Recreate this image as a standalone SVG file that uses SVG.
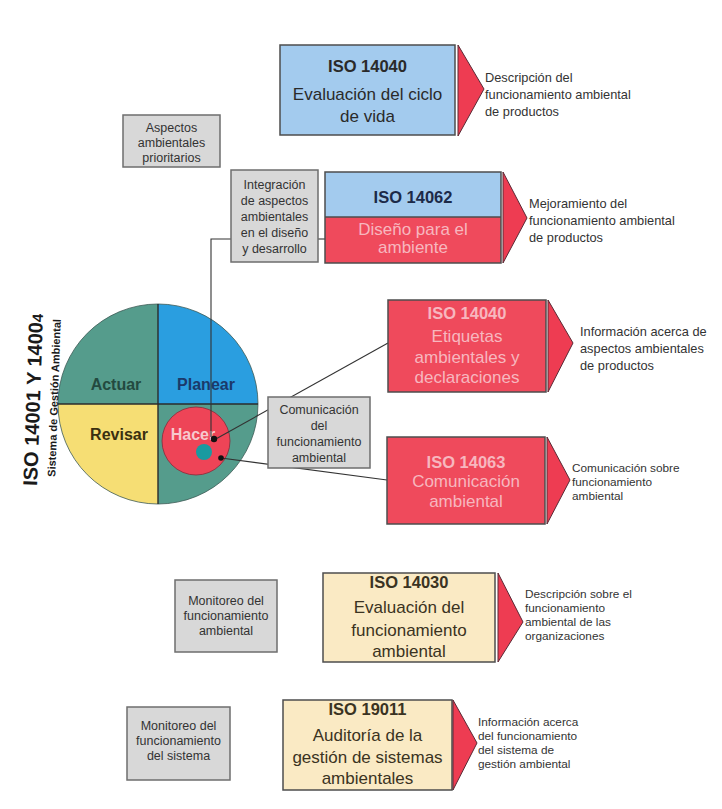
<svg xmlns="http://www.w3.org/2000/svg" width="722" height="809" viewBox="0 0 722 809">
  <style>
    .box { stroke: #4d4d4d; stroke-width: 1.5; }
    .gray { fill: #d8d8d8; stroke: #6e6e6e; stroke-width: 1.5; }
    .blue { fill: #a3cbee; }
    .red { fill: #ef4a5c; }
    .cream { fill: #faeac4; }
    .tri { fill: #ee3c52; stroke: #5a2a35; stroke-width: 1; }
    .link { fill: none; stroke: #333333; stroke-width: 1.1; }
    text { font-family: "Liberation Sans", Arial, sans-serif; }
    .t { font-size: 17px; text-anchor: middle; }
    .iso { font-size: 16.5px; font-weight: bold; text-anchor: middle; }
    .dark { fill: #2a2a2a; }
    .pink { fill: #f7b7bf; }
    .navy { fill: #1c2a48; }
    .brown { fill: #3a3322; }
    .g { font-size: 12.5px; fill: #333333; text-anchor: middle; }
    .side { font-size: 12.8px; fill: #333333; }
    .side2 { font-size: 11.8px; fill: #333333; }
    .q { font-size: 16px; font-weight: bold; text-anchor: middle; }
  </style>
  <defs>
    <clipPath id="disc"><circle cx="158" cy="404" r="100"/></clipPath>
  </defs>
  <rect width="722" height="809" fill="#ffffff"/>

  <!-- PDCA cycle -->
  <g id="ciclo">
    <g clip-path="url(#disc)">
      <rect x="58" y="304" width="100" height="100" fill="#559c8c"/>
      <rect x="158" y="304" width="100" height="100" fill="#2a9ee0"/>
      <rect x="58" y="404" width="100" height="100" fill="#f6de74"/>
      <rect x="158" y="404" width="100" height="100" fill="#559c8c"/>
    </g>
    <circle cx="158" cy="404" r="100" fill="none" stroke="#3d5a55" stroke-width="0.8"/>
    <line x1="58" y1="404" x2="258" y2="404" stroke="#2b2b2b" stroke-width="1.4"/>
    <line x1="158" y1="304" x2="158" y2="504" stroke="#2b2b2b" stroke-width="1.4"/>
    <circle cx="196" cy="441" r="34" fill="#ee4457" stroke="#8a2a3a" stroke-width="0.8"/>
    <text class="q" x="116" y="390" fill="#234a40">Actuar</text>
    <text class="q" x="206" y="390" fill="#1b3a6a">Planear</text>
    <text class="q" x="119" y="440" fill="#3a3010">Revisar</text>
    <text class="q" x="193" y="440" fill="#f7c9ce">Hacer</text>
    <circle cx="204" cy="452" r="8" fill="#1a9aa0"/>
  </g>

  <!-- title beside the cycle -->
  <g id="titulo">
    <text transform="translate(40,400) rotate(-88)" font-size="20" font-weight="bold" fill="#1a1a1a" text-anchor="middle">ISO 14001 Y 1400<tspan font-size="15">4</tspan></text>
    <text transform="translate(58,398) rotate(-88)" font-size="11" font-weight="bold" fill="#1a1a1a" text-anchor="middle">Sistema de Gestión Ambiental</text>
  </g>

  <!-- connectors -->
  <g id="conectores">
    <polyline class="link" points="231,239 211,239 211,437"/>
    <line class="link" x1="318" y1="239" x2="325" y2="239"/>
    <line class="link" x1="214" y1="440" x2="388" y2="343"/>
    <line class="link" x1="221" y1="458" x2="387" y2="480"/>
    <circle cx="214" cy="439" r="3.2" fill="#111111"/>
    <circle cx="221" cy="458" r="2.8" fill="#111111"/>
  </g>

  <!-- ISO 14040: life cycle -->
  <g id="iso14040-ciclo">
    <rect class="box blue" x="280" y="45" width="175" height="90"/>
    <text class="iso dark" x="367.5" y="72">ISO 14040</text>
    <text class="t dark" x="367.5" y="100">Evaluación del ciclo</text>
    <text class="t dark" x="367.5" y="122">de vida</text>
    <polygon class="tri" points="458,45 484,89 458,136"/>
    <text class="side" x="485" y="82">Descripción del</text>
    <text class="side" x="485" y="99">funcionamiento ambiental</text>
    <text class="side" x="485" y="116">de productos</text>
  </g>

  <g id="aspectos">
    <rect class="gray" x="123" y="115" width="97" height="52"/>
    <text class="g" x="171.5" y="132">Aspectos</text>
    <text class="g" x="171.5" y="147">ambientales</text>
    <text class="g" x="171.5" y="162">prioritarios</text>
  </g>

  <g id="integracion">
    <rect class="gray" x="231" y="170" width="87" height="92"/>
    <text class="g" x="274.5" y="189">Integración</text>
    <text class="g" x="274.5" y="205">de aspectos</text>
    <text class="g" x="274.5" y="221">ambientales</text>
    <text class="g" x="274.5" y="237">en el diseño</text>
    <text class="g" x="274.5" y="253">y desarrollo</text>
  </g>

  <!-- ISO 14062 -->
  <g id="iso14062">
    <rect class="blue" x="325" y="172" width="176" height="45"/>
    <rect class="red" x="325" y="217" width="176" height="46"/>
    <rect class="box" x="325" y="172" width="176" height="91" fill="none"/>
    <line x1="325" y1="217" x2="501" y2="217" stroke="#4d4d4d" stroke-width="1.5"/>
    <text class="iso navy" x="413" y="203">ISO 14062</text>
    <text class="t pink" x="413" y="235">Diseño para el</text>
    <text class="t pink" x="413" y="253">ambiente</text>
    <polygon class="tri" points="503,172 527,218 503,263"/>
    <text class="side" x="529" y="208">Mejoramiento del</text>
    <text class="side" x="529" y="225">funcionamiento ambiental</text>
    <text class="side" x="529" y="242">de productos</text>
  </g>

  <!-- labels and declarations -->
  <g id="iso14040-etiquetas">
    <rect class="box red" x="388" y="300" width="158" height="92"/>
    <text class="iso pink" x="467" y="319">ISO 14040</text>
    <text class="t pink" x="467" y="342">Etiquetas</text>
    <text class="t pink" x="467" y="363">ambientales y</text>
    <text class="t pink" x="467" y="383">declaraciones</text>
    <polygon class="tri" points="548,300 573,343 548,392"/>
    <text class="side" x="580" y="336">Información acerca de</text>
    <text class="side" x="580" y="353">aspectos ambientales</text>
    <text class="side" x="580" y="370">de productos</text>
  </g>

  <g id="comunicacion">
    <rect class="gray" x="268" y="397" width="102" height="71"/>
    <text class="g" x="319" y="414">Comunicación</text>
    <text class="g" x="319" y="430">del</text>
    <text class="g" x="319" y="446">funcionamiento</text>
    <text class="g" x="319" y="462">ambiental</text>
  </g>

  <!-- ISO 14063 -->
  <g id="iso14063">
    <rect class="box red" x="387" y="437" width="158" height="87"/>
    <text class="iso pink" x="466" y="468">ISO 14063</text>
    <text class="t pink" x="466" y="487">Comunicación</text>
    <text class="t pink" x="466" y="507">ambiental</text>
    <polygon class="tri" points="547,437 570,480 547,524"/>
    <text class="side2" x="572" y="472">Comunicación sobre</text>
    <text class="side2" x="572" y="486">funcionamiento</text>
    <text class="side2" x="572" y="500">ambiental</text>
  </g>

  <g id="monitoreo-ambiental">
    <rect class="gray" x="175" y="580" width="102" height="72"/>
    <text class="g" x="226" y="605">Monitoreo del</text>
    <text class="g" x="226" y="620">funcionamiento</text>
    <text class="g" x="226" y="635">ambiental</text>
  </g>

  <!-- ISO 14030 -->
  <g id="iso14030">
    <rect class="box cream" x="323" y="573" width="172" height="89"/>
    <text class="iso brown" x="409" y="588">ISO 14030</text>
    <text class="t brown" x="409" y="613">Evaluación del</text>
    <text class="t brown" x="409" y="636">funcionamiento</text>
    <text class="t brown" x="409" y="657">ambiental</text>
    <polygon class="tri" points="498,573 523,622 498,662"/>
    <text class="side2" x="525" y="598">Descripción sobre el</text>
    <text class="side2" x="525" y="612">funcionamiento</text>
    <text class="side2" x="525" y="626">ambiental de las</text>
    <text class="side2" x="525" y="640">organizaciones</text>
  </g>

  <g id="monitoreo-sistema">
    <rect class="gray" x="127" y="707" width="103" height="73"/>
    <text class="g" x="178.5" y="730">Monitoreo del</text>
    <text class="g" x="178.5" y="745">funcionamiento</text>
    <text class="g" x="178.5" y="760">del sistema</text>
  </g>

  <!-- ISO 19011 -->
  <g id="iso19011">
    <rect class="box cream" x="283" y="700" width="169" height="90"/>
    <text class="iso brown" x="367.5" y="715">ISO 19011</text>
    <text class="t brown" x="367.5" y="741">Auditoría de la</text>
    <text class="t brown" x="367.5" y="763">gestión de sistemas</text>
    <text class="t brown" x="367.5" y="784">ambientales</text>
    <polygon class="tri" points="453,700 477,743 453,790"/>
    <text class="side2" x="478" y="726">Información acerca</text>
    <text class="side2" x="478" y="740">del funcionamiento</text>
    <text class="side2" x="478" y="754">del sistema de</text>
    <text class="side2" x="478" y="768">gestión ambiental</text>
  </g>
</svg>
